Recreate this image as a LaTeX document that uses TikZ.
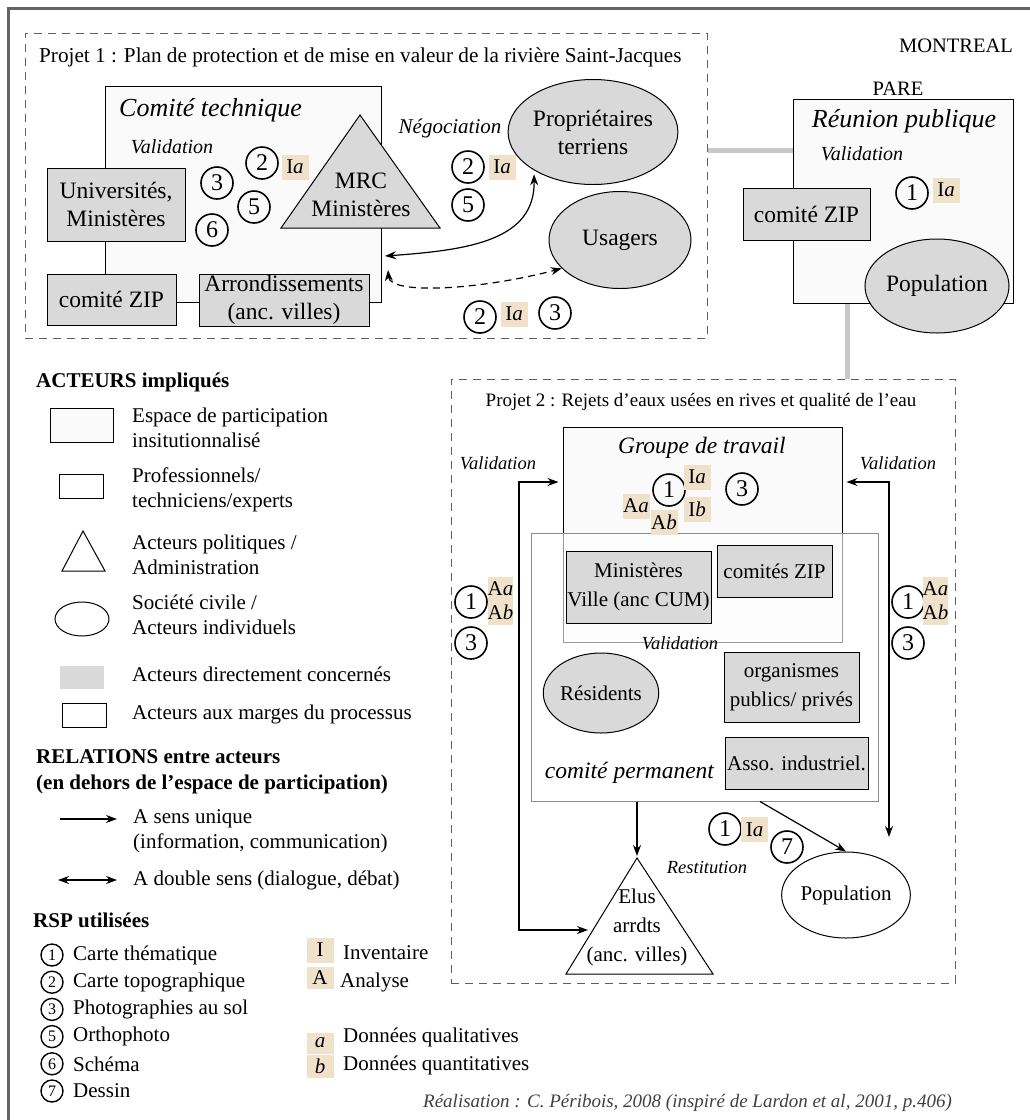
\documentclass[tikz,border=0pt]{standalone}
\usepackage{fontspec}
\setmainfont{Liberation Serif}
\usetikzlibrary{arrows.meta, positioning, shapes.geometric, calc}

\definecolor{actgray}{RGB}{217,217,217}
\definecolor{spacefill}{RGB}{250,250,250}
\definecolor{badgetan}{RGB}{240,225,203}
\definecolor{dashgray}{RGB}{95,95,95}
\definecolor{linkgray}{RGB}{200,200,200}
\definecolor{framegray}{RGB}{100,100,100}

\newcommand{\pfont}{\fontsize{23.5}{28}\selectfont}
\newcommand{\qfont}{\fontsize{21}{29}\selectfont}
\newcommand{\lfont}{\fontsize{21}{25}\selectfont}

\tikzset{
  projbox/.style={draw=dashgray, line width=1pt, dash pattern=on 8pt off 6pt},
  projtitle/.style={font=\fontsize{19}{22}\selectfont, inner sep=0pt},
  spacebox/.style={draw, fill=spacefill, line width=1pt},
  actorbox/.style={draw, fill=actgray, line width=1pt, align=center, inner sep=1pt},
  actorell/.style={ellipse, draw, fill=actgray, line width=1pt, align=center, inner sep=0pt},
  actortri/.style={draw, fill=actgray, line width=1pt, line join=miter},
  badgebox/.style={fill=badgetan, inner sep=0pt, minimum width=27pt, minimum height=25pt,
    font=\fontsize{21}{24}\selectfont, align=center},
  rspnum/.style={circle, draw, line width=1.6pt, inner sep=0pt, minimum size=32pt,
    font=\fontsize{24}{24}\selectfont},
  rsplegnum/.style={circle, draw, line width=1.4pt, inner sep=0pt, minimum size=22pt,
    font=\fontsize{16}{16}\selectfont},
  grouptitle/.style={font=\fontsize{26}{28}\selectfont\itshape, inner sep=0pt},
  vallabel/.style={font=\fontsize{20}{22}\selectfont\itshape, inner sep=0pt},
  linkline/.style={linkgray, line width=5pt},
  relarrow/.style={-{Stealth[length=11pt,width=8pt]}, line width=1.2pt},
  relboth/.style={{Stealth[length=11pt,width=8pt]}-{Stealth[length=11pt,width=8pt]}, line width=1.2pt},
  legtitle/.style={font=\fontsize{21}{26}\selectfont\bfseries, align=left, inner sep=0pt},
  legtext/.style={font=\lfont, align=left, inner sep=0pt},
  legsym/.style={draw, line width=1pt, inner sep=0pt},
}

\begin{document}
\begin{tikzpicture}[x=1pt, y=1pt]
  \useasboundingbox (0,0) rectangle (1030,-1120);
  % frame of the figure (top and left only)
  \draw[framegray, line width=3pt] (8,-1120) -- (8,-8) -- (1030,-8);

  % ---------- Projet 1
  \node[projbox, minimum width=682pt, minimum height=305pt] (proj1) at (366,-185.5) {};
  \node[projtitle, font=\fontsize{21.2}{23}\selectfont, anchor=west] (proj1lbl) at (39,-57)
    {Projet 1 : Plan de protection et de mise en valeur de la rivière Saint-Jacques};

  \node[spacebox, minimum width=276pt, minimum height=216pt] (comtech) at (243,-194) {};
  \node[grouptitle, anchor=west] (comtechlbl) at (119,-110) {Comité technique};
  \node[vallabel] (val1) at (172,-147) {Validation};

  \node[actorbox, font=\pfont, minimum width=138pt, minimum height=73pt] (univ) at (116,-204.5)
    {Universités,\\Ministères};
  \node[actorbox, font=\pfont, minimum width=129pt, minimum height=51pt] (zip1) at (111.5,-299.5)
    {comité ZIP};
  \node[actorbox, font=\pfont, minimum width=170pt, minimum height=52pt] (arrond) at (284,-300)
    {Arrondissements\\(anc. villes)};
  \draw[actortri] (360,-115) -- (281,-228) -- (440,-228) -- cycle;
  \node[font=\pfont, align=center, inner sep=0pt] (mrc) at (361,-195) {MRC\\Ministères};

  \node[rspnum] (n2a) at (262,-163) {2};
  \node[badgebox] (b2a) at (295,-167) {I\textit{a}};
  \node[rspnum] (n3a) at (217,-183) {3};
  \node[rspnum] (n5a) at (254,-207) {5};
  \node[rspnum] (n6a) at (212,-230) {6};

  \node[actorell, font=\pfont, minimum width=160pt, minimum height=105pt] (propri) at (593,-132)
    {Propriétaires\\terriens};
  \node[actorell, font=\pfont, minimum width=142pt, minimum height=97pt] (usagers) at (620,-240)
    {Usagers};

  \node[vallabel, font=\fontsize{21}{22}\selectfont\itshape] (nego) at (450,-128) {Négociation};
  \node[rspnum] (n2b) at (468,-167) {2};
  \node[badgebox] (b2b) at (502,-167) {I\textit{a}};
  \node[rspnum] (n5b) at (468,-205) {5};

  \node[rspnum] (n2c) at (480,-317) {2};
  \node[badgebox] (b2c) at (514,-314) {I\textit{a}};
  \node[rspnum] (n3c) at (555,-313) {3};

  \coordinate (ctneg) at (385,-256);
  \coordinate (ctusg) at (388,-270);
  \draw[relboth, shorten >=4pt] (ctneg) .. controls (470,-250) and (535,-240) .. (propri.213);
  \draw[relboth, dash pattern=on 7pt off 5pt] (ctusg) .. controls (390,-295) and (480,-290) .. (usagers.206);

  % ---------- PARE
  \node[font=\fontsize{20.5}{22}\selectfont, inner sep=0pt] (mtl) at (956,-46) {MONTREAL};
  \node[spacebox, minimum width=220pt, minimum height=204pt] (reunion) at (903,-201) {};
  \node[font=\fontsize{20.5}{22}\selectfont, inner sep=0pt] (pare) at (898,-89) {PARE};
  \node[grouptitle] (reunionlbl) at (904,-121) {Réunion publique};
  \node[vallabel] (val2) at (862,-154) {Validation};
  \node[rspnum] (n1p) at (912,-193) {1};
  \node[badgebox] (b1p) at (946,-190) {I\textit{a}};
  \node[actorbox, font=\pfont, minimum width=127pt, minimum height=52pt] (zip2) at (806.5,-214)
    {comité ZIP};
  \node[actorell, font=\pfont, minimum width=130pt, minimum height=94pt] (pop1) at (937,-286)
    {Population};

  % ---------- Projet 2
  \node[projbox, minimum width=504pt, minimum height=604pt] (proj2) at (703,-681) {};
  \node[projtitle] (proj2lbl) at (701,-402)
    {Projet 2 : Rejets d'eaux usées en rives et qualité de l'eau};

  % links between the projects
  \coordinate (lnkh) at (0,-150);
  \coordinate (lnkv) at (847,0);
  \draw[linkline] (proj1.east |- lnkh) -- (reunion.west |- lnkh);
  \draw[linkline] (reunion.south -| lnkv) -- (proj2.north -| lnkv);

  \node[spacebox, minimum width=279pt, minimum height=215pt] (groupe) at (702.5,-534.5) {};
  \node[grouptitle, font=\fontsize{23.5}{26}\selectfont\itshape] (groupelbl) at (702,-448) {Groupe de travail};
  \node[draw=black!45, fill=white, fill opacity=0.6, line width=1pt,
    minimum width=347pt, minimum height=268pt] (comperm) at (704.5,-667) {};

  \node[rspnum] (n1g) at (669,-490) {1};
  \node[badgebox] (bIa) at (697,-477) {I\textit{a}};
  \node[badgebox] (bIb) at (697,-509) {I\textit{b}};
  \node[badgebox] (bAa) at (636,-506) {A\textit{a}};
  \node[badgebox] (bAb) at (664,-522) {A\textit{b}};
  \node[rspnum] (n3g) at (742,-489) {3};

  \node[actorbox, font=\qfont, minimum width=145pt, minimum height=72pt] (minist) at (638.5,-587)
    {Ministères\\Ville (anc CUM)};
  \node[actorbox, font=\qfont, minimum width=115pt, minimum height=52pt] (zip3) at (774.5,-571)
    {comités ZIP};
  \node[vallabel, font=\fontsize{18.5}{20}\selectfont\itshape] (val3) at (680,-643) {Validation};
  \node[actorell, font=\qfont, minimum width=108pt, minimum height=80pt] (resid) at (601,-693)
    {Résidents};
  \node[actorbox, font=\qfont, minimum width=135pt, minimum height=70pt] (organ) at (791.5,-687)
    {organismes\\publics/ privés};
  \node[actorbox, font=\qfont, minimum width=143pt, minimum height=52pt] (asso) at (796.5,-763)
    {Asso. industriel.};
  \node[grouptitle, font=\fontsize{23.5}{26}\selectfont\itshape] (compermlbl) at (629.5,-773)
    {comité permanent};

  \draw[line width=1pt, fill=white, line join=miter] (637,-858) -- (566,-974) -- (713,-974) -- cycle;
  \node[font=\qfont, align=center, inner sep=0pt] (elus) at (637,-927) {Elus\\arrdts\\(anc. villes)};
  \node[ellipse, draw, fill=white, line width=1pt, font=\qfont, inner sep=0pt,
    minimum width=126pt, minimum height=86pt] (pop2) at (846,-895) {Population};

  \node[vallabel, font=\fontsize{18.5}{20}\selectfont\itshape] (valL) at (498,-463) {Validation};
  \node[vallabel, font=\fontsize{18.5}{20}\selectfont\itshape] (valR) at (898,-463) {Validation};
  \node[vallabel, font=\fontsize{18.5}{20}\selectfont\itshape] (restit) at (707,-867) {Restitution};

  \node[rspnum] (n1l) at (471,-602) {1};
  \node[badgebox, minimum width=25pt, minimum height=48pt, font=\fontsize{21}{24}\selectfont] (bL) at (500.5,-601)
    {A\textit{a}\\A\textit{b}};
  \node[rspnum] (n3l) at (471,-643) {3};
  \node[rspnum] (n1r) at (908,-602) {1};
  \node[badgebox, minimum width=25pt, minimum height=48pt, font=\fontsize{21}{24}\selectfont] (bR) at (935.5,-601)
    {A\textit{a}\\A\textit{b}};
  \node[rspnum] (n3r) at (908,-643) {3};

  \node[rspnum] (n1b) at (725,-829) {1};
  \node[badgebox] (b1b) at (754.5,-829.5) {I\textit{a}};
  \node[rspnum] (n7b) at (787,-847) {7};

  \coordinate (elustop) at (637,-856);
  \coordinate (eluswest) at (588,-930);
  \coordinate (permpop) at (760,0);
  \coordinate (permelus) at (637,0);
  \coordinate (loopv) at (0,-482);
  \draw[relarrow] (comperm.south -| permelus) -- (elustop);
  \draw[relarrow] (comperm.south -| permpop) -- (pop2.north);
  \draw[relboth, shorten <=4pt] (groupe.west |- loopv) -- (519,-482) -- (519,-930) -- (eluswest);
  \draw[relboth, shorten <=4pt] (groupe.east |- loopv) -- (889,-482) -- (889,-837);

  % ---------- legend
  \node[legtitle, anchor=west] (acttitle) at (36,-382) {ACTEURS impliqués};
  \node[legsym, fill=spacefill, minimum width=63pt, minimum height=34pt] (symspace) at (81.5,-425) {};
  \node[legtext, anchor=west] (txtspace) at (132,-427.5) {Espace de participation\\insitutionnalisé};
  \node[legsym, fill=white, minimum width=44pt, minimum height=24pt] (sympro) at (81,-486) {};
  \node[legtext, anchor=west] (txtpro) at (132,-489.5) {Professionnels/\\techniciens/experts};
  \draw[line width=1pt, line join=miter] (83,-531) -- (62,-571) -- (105,-571) -- cycle;
  \node[legtext, anchor=west] (txtpol) at (132,-554.5) {Acteurs politiques /\\Administration};
  \node[legsym, ellipse, minimum width=54pt, minimum height=34pt] (symciv) at (82,-619) {};
  \node[legtext, anchor=west] (txtciv) at (132,-614.5) {Société civile /\\Acteurs individuels};
  \node[fill=actgray, inner sep=0pt, minimum width=44pt, minimum height=23pt] (symdir) at (82,-677.5) {};
  \node[legtext, anchor=west] (txtdir) at (132,-674) {Acteurs directement concernés};
  \node[legsym, fill=white, minimum width=44pt, minimum height=24pt] (symmarg) at (84,-715) {};
  \node[legtext, anchor=west] (txtmarg) at (132,-714) {Acteurs aux marges du processus};

  \node[legtitle, anchor=west] (reltitle) at (36,-772)
    {RELATIONS entre acteurs\\(en dehors de l'espace de participation)};
  \coordinate (arrone) at (60,-819);
  \coordinate (arrtwo) at (58,-880);
  \draw[relarrow] (arrone) -- ++(57,0);
  \node[legtext, anchor=west] (txtone) at (133,-831) {A sens unique\\(information, communication)};
  \draw[relboth] (arrtwo) -- ++(59,0);
  \node[legtext, anchor=west] (txttwo) at (133,-880) {A double sens (dialogue, débat)};

  \node[legtitle, anchor=west] (rsptitle) at (33,-920) {RSP utilisées};
  \foreach \num/\txt [count=\i from 0] in {1/Carte thématique, 2/Carte topographique,
      3/Photographies au sol, 5/Orthophoto, 6/Schéma, 7/Dessin} {
    \node[rsplegnum] (rsp\num) at (52,{-955-27.2*\i}) {\num};
    \node[legtext, anchor=west] (rsptxt\num) at (73,{-955-27.2*\i}) {\txt};
  }

  \node[badgebox] (legI) at (320,-950) {I};
  \node[legtext, anchor=west] (txtI) at (343,-953) {Inventaire};
  \node[badgebox, minimum height=22pt] (legA) at (320,-978) {A};
  \node[legtext, anchor=west] (txtA) at (340,-982) {Analyse};
  \node[badgebox, minimum height=21pt] (lega) at (320,-1043) {\textit{a}};
  \node[legtext, anchor=west] (txta) at (343,-1037) {Données qualitatives};
  \node[badgebox, minimum height=23pt] (legb) at (320,-1066.5) {\textit{b}};
  \node[legtext, anchor=west] (txtb) at (343,-1065) {Données quantitatives};

  \node[font=\fontsize{19}{22}\selectfont\itshape, text=black!75, anchor=east, inner sep=0pt] (credit)
    at (952,-1103) {Réalisation : C. Péribois, 2008 (inspiré de Lardon et al, 2001, p.406)};
\end{tikzpicture}
\end{document}
